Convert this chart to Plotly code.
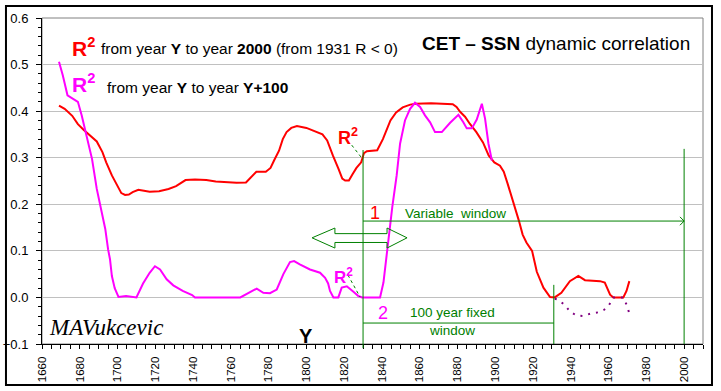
import plotly.graph_objects as go

# ---------------- data ----------------
red_years = [1669, 1672, 1676, 1679, 1682, 1686, 1689, 1692, 1694, 1697, 1700, 1702, 1704, 1706,
             1708, 1711, 1714, 1717, 1722, 1727, 1731, 1734, 1736, 1741, 1747, 1752, 1757, 1763,
             1768, 1771, 1773.5, 1778.5, 1781, 1783, 1785.5, 1787.5, 1789.5, 1792, 1795, 1800,
             1805, 1808.5, 1811, 1812.5, 1814, 1817, 1819, 1820.5, 1822.5, 1824.5, 1826.5, 1829,
             1830.5, 1832, 1837.5, 1840.5, 1842.5, 1844.5, 1847.5, 1851, 1855, 1858, 1866, 1874,
             1877.5, 1879.5, 1881.5, 1884, 1886.5, 1890, 1893.5, 1896.5, 1899.5, 1902.5, 1904.5,
             1906.5, 1908.5, 1910.5, 1912.5, 1914.5, 1916.5, 1919.5, 1922, 1925.5, 1929, 1931.5,
             1935, 1939.5, 1944, 1947.5, 1951.5, 1955.5, 1958, 1960.8, 1962.5, 1967.8, 1969.5, 1971]
red_r2 = [0.412, 0.405, 0.390, 0.372, 0.360, 0.345, 0.335, 0.312, 0.290, 0.262, 0.238, 0.224, 0.220, 0.221,
          0.226, 0.231, 0.229, 0.227, 0.228, 0.233, 0.239, 0.247, 0.252, 0.253, 0.252, 0.249, 0.247, 0.246,
          0.247, 0.260, 0.270, 0.270, 0.278, 0.295, 0.315, 0.340, 0.355, 0.364, 0.368, 0.364,
          0.356, 0.350, 0.337, 0.320, 0.305, 0.276, 0.255, 0.251, 0.251, 0.265, 0.278, 0.290,
          0.310, 0.314, 0.316, 0.340, 0.360, 0.380, 0.397, 0.408, 0.414, 0.416, 0.417, 0.416,
          0.415, 0.409, 0.398, 0.388, 0.373, 0.355, 0.333, 0.305, 0.290, 0.283, 0.270,
          0.245, 0.220, 0.190, 0.165, 0.135, 0.118, 0.100, 0.055, 0.021, 0.001, 0.000,
          0.010, 0.035, 0.046, 0.037, 0.036, 0.035, 0.032, 0.006, 0.000, 0.000, 0.014, 0.035]

mag_years = [1669, 1671, 1673.5, 1676.5, 1679, 1681, 1683.5, 1686.5, 1689, 1691.5, 1693.5, 1695,
             1696, 1697, 1698.5, 1700.5, 1704.5, 1710, 1711.5, 1713.5, 1717, 1719.8, 1722.5, 1726,
             1729.5, 1734.5, 1739.5, 1741, 1765, 1770, 1773.7, 1777.2, 1780.7, 1784.3, 1787.8,
             1791.3, 1793.5, 1796.5, 1801.9, 1807.2, 1809.9, 1811.5, 1812.5, 1814.3, 1816.9,
             1818.7, 1821.4, 1824.9, 1827.5, 1829.5, 1839, 1840.8, 1842.5, 1844.3, 1845.5, 1847.8,
             1849.6, 1852.2, 1854.9, 1857.5, 1860.2, 1862.8, 1865.5, 1868.1, 1871.7, 1876.1,
             1880.5, 1883.1, 1884.9, 1887.6, 1890.2, 1892.9, 1894.6, 1896.4, 1898.2]
mag_r2 = [0.506, 0.477, 0.434, 0.427, 0.420, 0.391, 0.348, 0.297, 0.233, 0.183, 0.147, 0.103,
          0.082, 0.046, 0.020, 0.001, 0.003, 0.000, 0.012, 0.030, 0.053, 0.067, 0.060, 0.039,
          0.026, 0.014, 0.005, 0.000, 0.000, 0.010, 0.019, 0.010, 0.009, 0.017, 0.050,
          0.076, 0.078, 0.071, 0.060, 0.053, 0.042, 0.030, 0.014, 0.000, 0.000,
          0.021, 0.024, 0.012, 0.003, 0.000, 0.000, 0.032, 0.092, 0.155, 0.195, 0.262,
          0.330, 0.380, 0.405, 0.418, 0.409, 0.391, 0.376, 0.355, 0.355, 0.375,
          0.392, 0.376, 0.363, 0.363, 0.382, 0.416, 0.384, 0.330, 0.294]

neg_years = [1931.5, 1933.5, 1937, 1939.5, 1943, 1946.5, 1950.2, 1954.5, 1957.5, 1959.8, 1961.5, 1962.5,
             1967.8, 1969.8, 1971]
neg_r2 = [-0.003, -0.005, -0.017, -0.030, -0.039, -0.040, -0.035, -0.032, -0.027, -0.019, -0.008, 0.000,
          0.000, -0.018, -0.035]

x_tick_vals = list(range(1660, 2001, 20))
y_tick_vals = [-0.1, 0.0, 0.1, 0.2, 0.3, 0.4, 0.5, 0.6]

FONT = "Arial, Liberation Sans, sans-serif"
RED = "#ff0000"
MAG = "#ff00ff"
GREEN = "#008000"
PURPLE = "#800080"

fig = go.Figure()
fig.add_trace(go.Scatter(x=red_years, y=red_r2, mode="lines",
                         line=dict(color=RED, width=2), hoverinfo="skip"))
fig.add_trace(go.Scatter(x=mag_years, y=mag_r2, mode="lines",
                         line=dict(color=MAG, width=2), hoverinfo="skip"))
fig.add_trace(go.Scatter(x=neg_years, y=neg_r2, mode="lines",
                         line=dict(color=PURPLE, width=2, dash="2px,6px"), hoverinfo="skip"))

shapes = []
# plot area border (grey) and outer chart border (black)
shapes.append(dict(type="rect", xref="paper", yref="paper", x0=0, x1=1, y0=0, y1=1,
                   line=dict(color="#808080", width=1), layer="below"))
shapes.append(dict(type="rect", xref="paper", yref="paper", x0=-0.0545, x1=1.0136,
                   y0=-0.1258, y1=1.0368, line=dict(color="black", width=2)))
# window marker lines
shapes.append(dict(type="line", xref="x", yref="paper", x0=1830, x1=1830, y0=-0.013, y1=0.595,
                   line=dict(color=GREEN, width=1)))
shapes.append(dict(type="line", xref="x", yref="y", x0=1931, x1=1931, y0=-0.1, y1=0.027,
                   line=dict(color=GREEN, width=1)))
shapes.append(dict(type="line", xref="x", yref="y", x0=2000, x1=2000, y0=-0.1, y1=0.319,
                   line=dict(color=GREEN, width=1)))
shapes.append(dict(type="line", xref="x", yref="y", x0=1830, x1=2000, y0=0.164, y1=0.164,
                   line=dict(color=GREEN, width=1)))
shapes.append(dict(type="path", xref="x", yref="y",
                   path="M 1997.8,0.173 L 2000,0.164 L 1997.8,0.155",
                   line=dict(color=GREEN, width=1)))
shapes.append(dict(type="line", xref="x", yref="y", x0=1830, x1=1931, y0=-0.055, y1=-0.055,
                   line=dict(color=GREEN, width=1)))
# leader lines
shapes.append(dict(type="line", xref="x", yref="y", x0=1824.0, x1=1829.6, y0=0.327, y1=0.298,
                   line=dict(color=GREEN, width=1, dash="dot")))
shapes.append(dict(type="line", xref="x", yref="y", x0=1822.0, x1=1828.4, y0=0.048, y1=0.001,
                   line=dict(color=GREEN, width=1, dash="dot")))
# hollow double arrow
shapes.append(dict(type="path", xref="x", yref="y",
                   path=("M 1803.0,0.128 L 1815.1,0.149 L 1815.1,0.137 L 1842.7,0.137 "
                         "L 1842.7,0.149 L 1853.3,0.128 L 1842.7,0.106 L 1842.7,0.118 "
                         "L 1815.1,0.118 L 1815.1,0.106 Z"),
                   line=dict(color=GREEN, width=1), fillcolor="rgba(0,0,0,0)"))

ann = []
def A(text, x, y, size, color="black", xref="paper", yref="paper", xanchor="left",
      family=FONT, align="left"):
    ann.append(dict(text=text, x=x, y=y, xref=xref, yref=yref, xanchor=xanchor,
                    yanchor="middle", showarrow=False, align=align,
                    font=dict(family=family, size=size, color=color)))

A("<b>R<sup>2</sup></b>", 0.0420, 0.912, 21, RED)
A("from year <b>Y</b> to year <b>2000</b> (from 1931 R &lt; 0)", 0.0855, 0.905, 15.5)
A("<b>R<sup>2</sup></b>", 0.0420, 0.800, 21, MAG)
A("from year <b>Y</b> to year <b>Y+100</b>", 0.0950, 0.788, 15.5)
A("<b>CET – SSN</b> dynamic correlation", 0.5719, 0.923, 19)
A("<b>R<sup>2</sup></b>", 1815.5, 0.345, 18, RED, "x", "y")
A("<b>R<sup>2</sup></b>", 1813.5, 0.047, 17, MAG, "x", "y")
A("1", 1836.3, 0.181, 18, RED, "x", "y", "center")
A("Variable  window", 1851.3, 0.181, 13.5, GREEN, "x", "y")
A("2", 1840.6, -0.033, 18, MAG, "x", "y", "center")
A("100 year fixed<br>window", 1877.6, -0.051, 13.5, GREEN, "x", "y", "center", align="center")
A("<b>Y</b>", 1799.8, -0.083, 20, "black", "x", "y", "center")
A("<i>MAVukcevic</i>", 1662.5, -0.064, 23, "black", "x", "y",
  family="Liberation Serif, DejaVu Serif, serif")

fig.update_layout(
    width=721, height=391,
    margin=dict(l=42, r=18, t=18, b=47, autoexpand=False),
    paper_bgcolor="white", plot_bgcolor="white",
    showlegend=False,
    font=dict(family=FONT, size=12, color="black"),
    shapes=shapes, annotations=ann,
    xaxis=dict(range=[1660, 2010], tickvals=x_tick_vals, ticktext=[str(v) for v in x_tick_vals],
               tickangle=-90, ticks="outside", ticklen=4, tickcolor="black", automargin=False,
               showline=True, linecolor="black", linewidth=1, showgrid=False, zeroline=False,
               minor=dict(dtick=5, tick0=1660, ticks="outside", ticklen=4, tickcolor="black"),
               tickfont=dict(size=11.5, family=FONT), ticklabelstandoff=3),
    yaxis=dict(range=[-0.1, 0.6], tickvals=y_tick_vals, tickformat=".1f", automargin=False,
               ticks="outside", ticklen=5, tickcolor="black",
               showline=True, linecolor="black", linewidth=1,
               showgrid=True, gridcolor="#c0c0c0", gridwidth=1,
               zeroline=True, zerolinecolor="#c0c0c0", zerolinewidth=1,
               minor=dict(dtick=0.02, tick0=0, ticks="outside", ticklen=3, tickcolor="black"),
               tickfont=dict(size=13, family=FONT), ticklabelstandoff=5),
)

fig.write_html("out.html", config={"displayModeBar": False, "staticPlot": True},
               post_script="document.body.style.margin='0px';document.body.style.overflow='hidden';")
